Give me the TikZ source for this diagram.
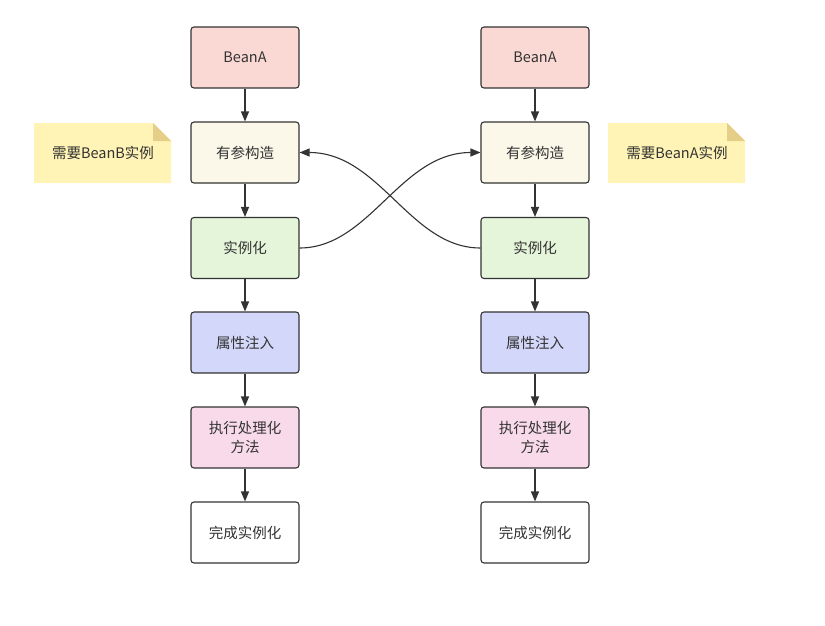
\documentclass[tikz,border=0pt]{standalone}
\usepackage{fontspec}
\setmainfont{Noto Sans CJK SC}
\usetikzlibrary{arrows.meta}
\definecolor{ink}{HTML}{333333}
\definecolor{cA}{HTML}{FAD9D5}
\definecolor{cB}{HTML}{FBF8EA}
\definecolor{cC}{HTML}{E5F5DA}
\definecolor{cD}{HTML}{D3D7F9}
\definecolor{cE}{HTML}{F8DAEA}
\definecolor{noteF}{HTML}{FFF4B5}
\definecolor{foldF}{HTML}{E4CE88}
\tikzset{
  box/.style={draw=ink, line width=1.1pt, rounded corners=3pt, minimum width=108pt, minimum height=61pt, inner sep=2pt, align=center, text=ink, font=\fontsize{14.5}{19.5}\selectfont},
  conn/.style={draw=ink, line width=1.1pt, -{Triangle[length=10pt,width=8pt]}},
  notetext/.style={text=ink, font=\fontsize{14.5}{18}\selectfont}
}
\begin{document}
\begin{tikzpicture}[x=1pt,y=-1pt]
\useasboundingbox (0,0) rectangle (825,626);
% notes
\fill[noteF] (34,123) -- (153,123) -- (171,141) -- (171,183) -- (34,183) -- cycle;
\fill[foldF] (153,123) -- (171,141) -- (153,141) -- cycle;
\node[notetext] (n1) at (103,153) {需要BeanB实例};
\fill[noteF] (608,123) -- (727,123) -- (745,141) -- (745,183) -- (608,183) -- cycle;
\fill[foldF] (727,123) -- (745,141) -- (727,141) -- cycle;
\node[notetext] (n2) at (677,153) {需要BeanA实例};
% left column
\node[box, fill=cA] (a1) at (245,57.5) {BeanA};
\node[box, fill=cB] (a2) at (245,152.5) {有参构造};
\node[box, fill=cC] (a3) at (245,248) {实例化};
\node[box, fill=cD] (a4) at (245,342.5) {属性注入};
\node[box, fill=cE] (a5) at (245,437.5) {执行处理化\\方法};
\node[box, fill=white] (a6) at (245,532.5) {完成实例化};
% right column
\node[box, fill=cA] (b1) at (535,57.5) {BeanA};
\node[box, fill=cB] (b2) at (535,152.5) {有参构造};
\node[box, fill=cC] (b3) at (535,248) {实例化};
\node[box, fill=cD] (b4) at (535,342.5) {属性注入};
\node[box, fill=cE] (b5) at (535,437.5) {执行处理化\\方法};
\node[box, fill=white] (b6) at (535,532.5) {完成实例化};
% vertical arrows
\foreach \c in {a,b}{
  \draw[conn] (\c1) -- (\c2);
  \draw[conn] (\c2) -- (\c3);
  \draw[conn] (\c3) -- (\c4);
  \draw[conn] (\c4) -- (\c5);
  \draw[conn] (\c5) -- (\c6);
}
% crossing curves
\draw[conn] (a3.east) .. controls (370,248) and (400,152.5) .. (b2.west);
\draw[conn] (b3.west) .. controls (410,248) and (380,152.5) .. (a2.east);
\end{tikzpicture}
\end{document}
